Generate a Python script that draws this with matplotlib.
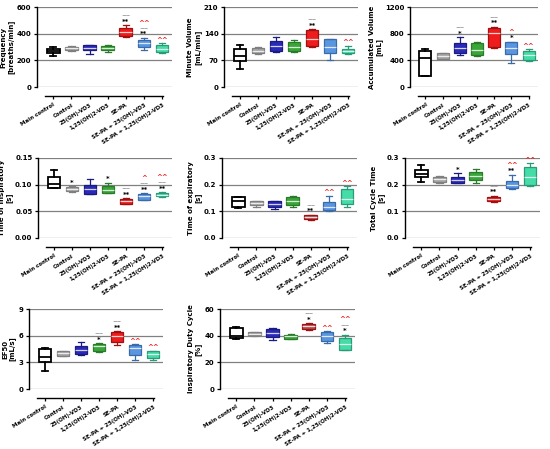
import matplotlib.pyplot as plt

groups = ['Main control', 'Control', '25(OH)-VD3', '1,25(OH)2-VD3', 'SE-PA',
          'SE-PA + 25(OH)-VD3', 'SE-PA + 1,25(OH)2-VD3']

# box stats per group: whisker low, q1, median, q3, whisker high
freq = [[230, 255, 268, 285, 302], [270, 278, 290, 300, 310], [245, 275, 290, 312, 315],
        [265, 275, 290, 305, 315], [378, 385, 415, 445, 465], [278, 302, 328, 352, 370],
        [255, 260, 285, 315, 328]]
minvol = [[48, 67, 82, 100, 110], [86, 88, 95, 103, 106], [93, 95, 108, 120, 132],
          [93, 95, 106, 117, 123], [106, 108, 126, 149, 152], [72, 90, 106, 125, 125],
          [86, 88, 95, 101, 108]]
accvol = [[160, 170, 430, 545, 565], [417, 420, 466, 505, 510], [480, 515, 590, 665, 745],
          [465, 480, 555, 665, 670], [578, 600, 810, 890, 905], [355, 490, 585, 670, 680],
          [390, 405, 480, 540, 565]]
tinsp = [[0.093, 0.094, 0.101, 0.114, 0.128], [0.087, 0.088, 0.091, 0.095, 0.097],
         [0.082, 0.083, 0.092, 0.100, 0.110], [0.084, 0.085, 0.090, 0.097, 0.104],
         [0.063, 0.064, 0.069, 0.073, 0.075], [0.071, 0.072, 0.078, 0.083, 0.084],
         [0.077, 0.078, 0.080, 0.085, 0.086]]
texp = [[0.112, 0.118, 0.140, 0.152, 0.155], [0.118, 0.122, 0.130, 0.137, 0.140],
        [0.110, 0.115, 0.127, 0.137, 0.140], [0.118, 0.125, 0.140, 0.152, 0.158],
        [0.068, 0.070, 0.077, 0.085, 0.088], [0.103, 0.106, 0.118, 0.135, 0.158],
        [0.115, 0.128, 0.148, 0.185, 0.195]]
tcycle = [[0.210, 0.228, 0.240, 0.255, 0.275], [0.208, 0.210, 0.220, 0.228, 0.231],
          [0.205, 0.207, 0.218, 0.228, 0.243], [0.205, 0.218, 0.233, 0.248, 0.260],
          [0.135, 0.138, 0.146, 0.155, 0.158], [0.185, 0.188, 0.200, 0.215, 0.238],
          [0.196, 0.200, 0.230, 0.265, 0.280]]
ef50 = [[2.05, 3.0, 3.55, 4.5, 4.6], [3.7, 3.72, 4.0, 4.25, 4.3], [3.85, 3.9, 4.35, 4.8, 5.3],
        [4.15, 4.25, 4.85, 5.1, 5.15], [4.9, 5.3, 6.0, 6.4, 6.5], [3.3, 3.8, 4.6, 5.0, 5.05],
        [3.3, 3.5, 3.9, 4.25, 4.3]]
duty = [[37.8, 38.5, 39.5, 45.5, 46.3], [40.0, 40.3, 41.5, 42.7, 43.0], [37.0, 38.8, 42.0, 45.0, 45.7],
        [37.5, 37.8, 39.5, 40.8, 41.3], [44.5, 45.0, 47.0, 48.7, 49.4], [34.6, 35.8, 39.5, 42.5, 43.2],
        [28.9, 29.6, 33.8, 38.3, 40.8]]

# significance marks per group, bottom to top
freq_sig = [[], [], [], [], ['**', '~~'], ['**', '~~', '^^'], ['^^']]
minvol_sig = [[], [], [], [], ['**', '~~'], [], ['^^']]
accvol_sig = [[], [], ['*', '~~'], [], ['**', '~~'], ['*', '^'], ['^^']]
tinsp_sig = [[], ['*'], [], ['*'], ['**', '~~'], ['**', '~~', '^'], ['**', '~~', '^^']]
texp_sig = [[], [], [], [], ['**', '~~'], ['^^'], ['^^']]
tcycle_sig = [[], [], ['*'], [], ['**', '~~'], ['**', '^^'], ['^^']]
ef50_sig = [[], [], [], ['*', '~~'], ['**', '~~'], ['^^'], ['^^']]
duty_sig = [[], [], [], [], ['*', '~~'], ['^^'], ['*', '~~', '^^']]

panels = [
    ('Frequency\n[breaths/min]', freq, freq_sig, [0, 200, 400, 600], ['0', '200', '400', '600'], '#ee1c1c'),
    ('Minute Volume\n[mL/min]', minvol, minvol_sig, [0, 70, 140, 210], ['0', '70', '140', '210'], '#ee1c1c'),
    ('Accumulated Volume\n[mL]', accvol, accvol_sig, [0, 400, 800, 1200], ['0', '400', '800', '1200'], '#ee1c1c'),
    ('Time of inspiratory\n[s]', tinsp, tinsp_sig, [0, 0.05, 0.10, 0.15], ['0.00', '0.05', '0.10', '0.15'], '#e02020'),
    ('Time of expiratory\n[s]', texp, texp_sig, [0, 0.1, 0.2, 0.3], ['0.0', '0.1', '0.2', '0.3'], '#b05858'),
    ('Total Cycle Time\n[s]', tcycle, tcycle_sig, [0, 0.1, 0.2, 0.3], ['0.0', '0.1', '0.2', '0.3'], '#e01818'),
    ('EF50\n[mL/s]', ef50, ef50_sig, [0, 3, 6, 9], ['0', '3', '6', '9'], '#ee1c1c'),
    ('Inspiratory Duty Cycle\n[%]', duty, duty_sig, [0, 20, 40, 60], ['0', '20', '40', '60'], '#b05050'),
]

faces = ['white', '#a6a6a6', '#2a2ab8', '#3aa63a', None, '#5a96e0', '#45dca8']
edges = ['black', '#7f7f7f', '#1a1a80', '#2a7a2a', '#a01010', '#3a6aa8', '#2a9a78']
sig_colors = {'*': 'black', '**': 'black', '~~': '#909090', '^': '#ee2222', '^^': '#ee2222'}

W, H = 550, 449
# axes boxes in pixels: left, right, top (ymax), bottom (y=0)
boxes = [(37, 172, 7, 87), (224, 358, 7, 87), (410, 538, 7, 87),
         (38, 172, 158, 238), (222, 357, 158, 238), (405, 540, 158, 238),
         (29, 163, 309, 389), (220, 355, 309, 389)]

fig = plt.figure(figsize=(W / 100, H / 100), dpi=100)

for (ylabel, data, sig, yt, ytl, sepa_col), (l, r, t, b) in zip(panels, boxes):
    ax = fig.add_axes([l / W, 1 - b / H, (r - l) / W, (b - t) / H])
    for s in ['top', 'right']:
        ax.spines[s].set_visible(False)
    ax.spines['left'].set_linewidth(1.0)
    ax.spines['bottom'].set_position(('outward', 6.5))
    ax.spines['bottom'].set_bounds(-0.45, 6.05)
    ax.spines['bottom'].set_linewidth(1.0)

    stats = [dict(whislo=s[0], q1=s[1], med=s[2], q3=s[3], whishi=s[4]) for s in data]
    res = ax.bxp(stats, positions=range(7), widths=0.7, capwidths=0.35,
                 showfliers=False, patch_artist=True)
    for i in range(7):
        fc = faces[i] if faces[i] else sepa_col
        ec = edges[i]
        lw = 1.3 if i == 0 else 0.9
        res['boxes'][i].set(facecolor=fc, edgecolor=ec, linewidth=lw)
        res['medians'][i].set(color='black' if i == 0 else 'white', linewidth=lw, alpha=1 if i == 0 else 0.8)
        for w in res['whiskers'][2 * i:2 * i + 2] + res['caps'][2 * i:2 * i + 2]:
            w.set(color=ec, linewidth=lw)
    for i, marks in enumerate(sig):
        for k, m in enumerate(marks):
            ax.annotate(m, (i, data[i][4]), xytext=(0, 2.5 + 4.2 * k), textcoords='offset points',
                        ha='center', va='center', fontsize=4 if m == '~~' else 5,
                        fontweight='bold', color=sig_colors[m])
    ax.set_ylim(yt[0], yt[-1])
    ax.set_xlim(-0.9, 6.55)
    for y in yt:
        ax.axhline(y, color='#808080', linewidth=0.9, zorder=0)
    ax.tick_params(axis='both', length=2.5, width=0.9, pad=1.5)
    ax.tick_params(axis='x', pad=2)
    ax.set_yticks(yt)
    ax.set_yticklabels(ytl, fontsize=5, fontweight='bold')
    ax.set_xticks(range(7))
    ax.set_xticklabels(groups, rotation=32, ha='right', rotation_mode='anchor',
                       fontsize=4.0, fontweight='bold')
    ax.set_ylabel(ylabel, fontsize=5.0, fontweight='bold', labelpad=2, linespacing=1.1)

fig.savefig('out.png', dpi=100)
